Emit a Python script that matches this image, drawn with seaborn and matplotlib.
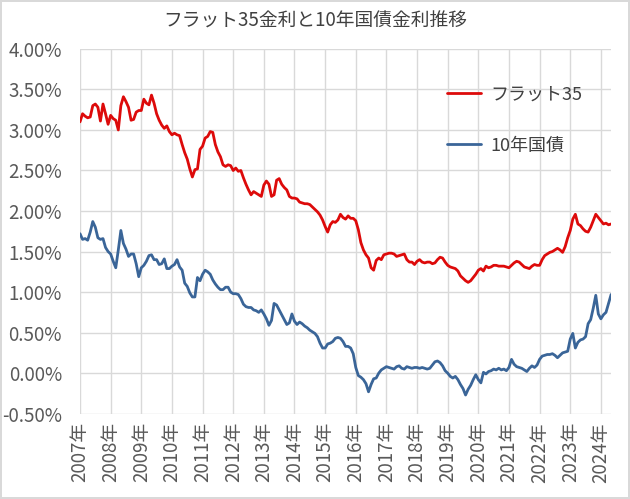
import pandas as pd
import numpy as np
import seaborn as sns
import matplotlib.pyplot as plt
from matplotlib.ticker import FuncFormatter

sns.set_style("white")
plt.rcParams['font.family'] = ['Noto Sans CJK JP', 'DejaVu Sans']

# monthly values, Jan 2007 - May 2024
flat35 = [
    3.10, 3.20, 3.17, 3.15, 3.16, 3.30, 3.32, 3.28, 3.11, 3.32, 3.20, 3.07,
    3.18, 3.14, 3.12, 3.00, 3.30, 3.41, 3.35, 3.28, 3.12, 3.13, 3.22, 3.24,
    3.24, 3.38, 3.33, 3.31, 3.43, 3.33, 3.20, 3.12, 3.06, 3.02, 3.05, 2.98,
    2.94, 2.96, 2.94, 2.93, 2.82, 2.72, 2.64, 2.52, 2.42, 2.51, 2.52, 2.76,
    2.80, 2.90, 2.92, 2.98, 2.97, 2.82, 2.73, 2.67, 2.57, 2.55, 2.57, 2.56,
    2.50, 2.53, 2.49, 2.50, 2.41, 2.33, 2.26, 2.20, 2.24, 2.22, 2.20, 2.18,
    2.32, 2.37, 2.33, 2.18, 2.20, 2.38, 2.40, 2.33, 2.29, 2.26, 2.18, 2.16,
    2.16, 2.15, 2.11, 2.10, 2.09, 2.09, 2.08, 2.05, 2.02, 1.99, 1.95, 1.89,
    1.81, 1.74, 1.83, 1.87, 1.86, 1.89, 1.96, 1.92, 1.90, 1.94, 1.91, 1.91,
    1.88, 1.77, 1.61, 1.52, 1.46, 1.42, 1.30, 1.27, 1.39, 1.42, 1.40, 1.46,
    1.47, 1.48, 1.48, 1.47, 1.44, 1.45, 1.46, 1.47, 1.40, 1.37, 1.37, 1.34,
    1.38, 1.40, 1.37, 1.36, 1.37, 1.37, 1.35, 1.36, 1.40, 1.43, 1.42, 1.37,
    1.33, 1.31, 1.30, 1.29, 1.26, 1.20, 1.17, 1.14, 1.12, 1.14, 1.18, 1.22,
    1.27, 1.29, 1.26, 1.32, 1.30, 1.31, 1.33, 1.33, 1.32, 1.32, 1.32, 1.31,
    1.30, 1.33, 1.36, 1.38, 1.37, 1.34, 1.31, 1.30, 1.29, 1.32, 1.34, 1.33,
    1.33, 1.40, 1.45, 1.47, 1.49, 1.50, 1.52, 1.54, 1.52, 1.49, 1.56, 1.67,
    1.76, 1.90, 1.96, 1.84, 1.82, 1.78, 1.75, 1.74, 1.80, 1.88, 1.96, 1.92,
    1.88, 1.84, 1.85, 1.83, 1.84,
]
jgb10 = [
    1.72, 1.65, 1.66, 1.64, 1.74, 1.87, 1.80, 1.67, 1.65, 1.66, 1.55, 1.50,
    1.47, 1.38, 1.30, 1.52, 1.76, 1.60, 1.53, 1.44, 1.47, 1.47, 1.35, 1.19,
    1.30, 1.33, 1.38, 1.45, 1.46, 1.40, 1.40, 1.34, 1.35, 1.41, 1.29, 1.29,
    1.32, 1.34, 1.40, 1.31, 1.27, 1.11, 1.07, 0.99, 0.94, 0.94, 1.18, 1.14,
    1.22, 1.27, 1.25, 1.22, 1.15, 1.10, 1.06, 1.03, 1.03, 1.06, 1.06, 1.00,
    0.98, 0.98, 0.97, 0.92, 0.85, 0.82, 0.81, 0.81, 0.78, 0.77, 0.75, 0.78,
    0.73, 0.67, 0.59, 0.65, 0.86, 0.84, 0.78, 0.72, 0.66, 0.60, 0.62, 0.73,
    0.64, 0.60, 0.63, 0.61, 0.58, 0.56, 0.53, 0.51, 0.49, 0.45, 0.37, 0.31,
    0.31, 0.36, 0.37, 0.39, 0.43, 0.44, 0.43, 0.39, 0.33, 0.33, 0.31, 0.24,
    0.07, -0.03, -0.05, -0.08, -0.13, -0.23, -0.14, -0.07, -0.06, 0.00, 0.04, 0.06,
    0.08, 0.07, 0.06, 0.05, 0.08, 0.09, 0.06, 0.05, 0.08, 0.07, 0.06, 0.07,
    0.07, 0.06, 0.07, 0.06, 0.05, 0.06, 0.10, 0.14, 0.15, 0.13, 0.09, 0.03,
    0.00, -0.04, -0.06, -0.04, -0.08, -0.14, -0.19, -0.27, -0.20, -0.15, -0.08, -0.02,
    -0.08, -0.12, 0.01, -0.01, 0.02, 0.03, 0.05, 0.04, 0.06, 0.04, 0.05, 0.03,
    0.07, 0.17, 0.11, 0.08, 0.07, 0.06, 0.04, 0.02, 0.06, 0.09, 0.07, 0.10,
    0.17, 0.21, 0.22, 0.23, 0.23, 0.24, 0.22, 0.19, 0.22, 0.25, 0.26, 0.27,
    0.42, 0.49, 0.31, 0.38, 0.41, 0.42, 0.45, 0.61, 0.66, 0.80, 0.96, 0.73,
    0.67, 0.72, 0.75, 0.86, 0.97,
]
years = [f"{y}年" for y in range(2007, 2025)]
series_names = ["フラット35", "10年国債"]
colors = ["#dd0a0a", "#3a6598"]

n = len(flat35)
df = pd.DataFrame({
    "month": list(range(n)) * 2,
    "rate": flat35 + jgb10,
    "series": [series_names[0]] * n + [series_names[1]] * len(jgb10),
})

fig = plt.figure(figsize=(6.3, 4.99), dpi=100)
ax = fig.add_axes([0.127, 0.171, 0.843, 0.731])
sns.lineplot(data=df, x="month", y="rate", hue="series", palette=colors,
             linewidth=2.0, ax=ax)

ax.set_xlim(0, n - 1)
ax.set_ylim(-0.5, 4.0)
ax.set_yticks(np.arange(-0.5, 4.01, 0.5))
ax.yaxis.set_major_formatter(FuncFormatter(lambda v, p: f"{v:.2f}%"))
ax.set_xticks(range(0, n, 12))
ax.set_xticklabels(years, rotation=90)
ax.tick_params(axis="y", length=0, pad=13, labelsize=13.5, labelcolor="#595959")
ax.tick_params(axis="x", length=0, pad=6, labelsize=13.5, labelcolor="#595959")
ax.grid(True, color="#d9d9d9", linewidth=1.0)
ax.set_axisbelow(True)
for s in ax.spines.values():
    s.set_visible(False)
ax.set_xlabel("")
ax.set_ylabel("")

leg = ax.legend(loc="upper left", bbox_to_anchor=(0.66, 0.945), frameon=False,
                fontsize=13, labelspacing=1.85, handlelength=1.9, handletextpad=0.5)
for t in leg.get_texts():
    t.set_color("#404040")

fig.text(0.5, 0.958, "フラット35金利と10年国債金利推移", ha="center", va="center",
         fontsize=13.5, color="#404040")

fig.patch.set_edgecolor("#d9d9d9")
fig.patch.set_linewidth(1.5)

plt.savefig("out.png", dpi=100, edgecolor=fig.get_edgecolor())
